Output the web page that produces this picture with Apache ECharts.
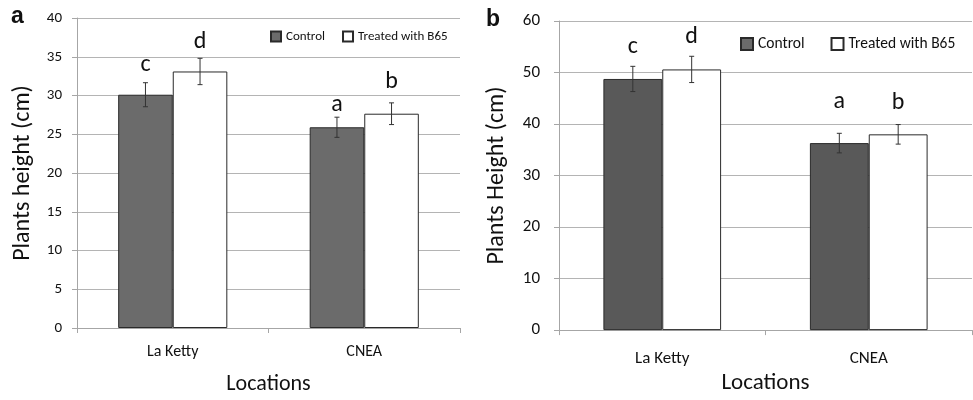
<!DOCTYPE html>
<html><head><meta charset="utf-8">
<script src="https://cdn.jsdelivr.net/npm/echarts@6/dist/echarts.min.js"></script>
<style>html,body{margin:0;padding:0;background:#fff}#c{width:973px;height:400px}</style>
</head><body><div id="c"></div>
<script>
const categories = ['La Ketty', 'CNEA'];
const seriesNames = ['Control', 'Treated with B65'];
// Panel a
const aControl = [30.1, 25.9];
const aTreated = [33.1, 27.65];
const aControlErr = [1.55, 1.3];
const aTreatedErr = [1.7, 1.4];
const aControlLetters = ['c', 'a'];
const aTreatedLetters = ['d', 'b'];
// Panel b
const bControl = [48.75, 36.3];
const bTreated = [50.6, 38.0];
const bControlErr = [2.45, 1.9];
const bTreatedErr = [2.55, 1.9];
const bControlLetters = ['c', 'a'];
const bTreatedLetters = ['d', 'b'];

const FONT = 'Carlito, Calibri, Lato, sans-serif';
const GAPFRAC = 0.43;
const chart = echarts.init(document.getElementById('c'), null, {renderer: 'canvas'});

function errSeries(gridIdx, means, errs, letters, side, fontSize, letterGaps) {
  return {
    type: 'custom', xAxisIndex: gridIdx, yAxisIndex: gridIdx, z: 10,
    data: means.map((m, i) => [i, m, errs[i]]),
    encode: {x: 0, y: 1},
    renderItem: function (params, api) {
      const i = api.value(0), m = api.value(1), e = api.value(2);
      const band = api.size([1, 0])[0];
      const bw = band * (1 - GAPFRAC) / 2;
      const cx = api.coord([i, m])[0] + side * bw / 2;
      const yHi = api.coord([i, m + e])[1];
      const yLo = api.coord([i, m - e])[1];
      const cap = 2.5;
      const st = {stroke: '#333', lineWidth: 1};
      return {type: 'group', children: [
        {type: 'line', shape: {x1: cx, y1: yHi, x2: cx, y2: yLo}, style: st},
        {type: 'line', shape: {x1: cx - cap, y1: yHi, x2: cx + cap, y2: yHi}, style: st},
        {type: 'line', shape: {x1: cx - cap, y1: yLo, x2: cx + cap, y2: yLo}, style: st},
        {type: 'text', style: {text: letters[i], x: cx, y: yHi - letterGaps[i], align: 'center', verticalAlign: 'bottom',
          font: fontSize + 'px ' + FONT, fill: '#111'}}
      ]};
    }
  };
}

function barSeries(gridIdx, name, data, color) {
  return {
    type: 'bar', name: name, xAxisIndex: gridIdx, yAxisIndex: gridIdx, data: data,
    barGap: '0%', barCategoryGap: (GAPFRAC * 100) + '%',
    itemStyle: {color: color, borderColor: '#2a2a2a', borderWidth: 1},
    emphasis: {disabled: true}
  };
}

function xAx(gridIdx, fs, margin, nameFs, nameGap) {
  return {
    type: 'category', gridIndex: gridIdx, data: categories,
    axisLine: {lineStyle: {color: '#a6a6a6'}},
    axisTick: {show: true, length: 5, lineStyle: {color: '#a6a6a6'}},
    axisLabel: {fontFamily: FONT, fontSize: fs, color: '#111', margin: margin},
    name: 'Locations', nameLocation: 'middle', nameGap: nameGap,
    nameTextStyle: {fontFamily: FONT, fontSize: nameFs, color: '#111'}
  };
}
function yAx(gridIdx, max, interval, fs, margin, name, nameFs, nameGap) {
  return {
    type: 'value', gridIndex: gridIdx, min: 0, max: max, interval: interval,
    axisLine: {show: true, lineStyle: {color: '#a6a6a6'}},
    axisTick: {show: true, length: 5, lineStyle: {color: '#a6a6a6'}},
    splitLine: {lineStyle: {color: '#b4b4b4'}},
    axisLabel: {fontFamily: FONT, fontSize: fs, color: '#111', margin: margin},
    name: name, nameLocation: 'middle', nameGap: nameGap,
    nameTextStyle: {fontFamily: FONT, fontSize: nameFs, color: '#111'}
  };
}

chart.setOption({
  animation: false,
  backgroundColor: '#fff',
  grid: [
    {left: 77, top: 18, width: 383, height: 312},
    {left: 559, top: 21, width: 413, height: 312}
  ],
  legend: [
    {data: seriesNames, left: 270, top: 30, padding: 0, width: 300, orient: 'horizontal', icon: 'rect', itemWidth: 10, itemHeight: 10, itemGap: 17,
      textStyle: {fontFamily: FONT, fontSize: 13, color: '#111'}, selectedMode: false},
    {data: seriesNames, left: 740, top: 36, padding: 0, width: 300, orient: 'horizontal', icon: 'rect', itemWidth: 12, itemHeight: 12, itemGap: 26,
      textStyle: {fontFamily: FONT, fontSize: 15.5, color: '#111'}, selectedMode: false}
  ],
  title: [
    {text: 'a', left: 11, top: 5, padding: 0, textStyle: {fontFamily: 'Liberation Sans', fontWeight: 'bold', fontSize: 23, color: '#111'}},
    {text: 'b', left: 486, top: 8, padding: 0, textStyle: {fontFamily: 'Liberation Sans', fontWeight: 'bold', fontSize: 23, color: '#111'}}
  ],
  xAxis: [xAx(0, 16, 16, 22, 45), xAx(1, 17, 20, 23, 40)],
  yAxis: [yAx(0, 40, 5, 15, 15, 'Plants height (cm)', 24, 42), yAx(1, 60, 10, 17, 19, 'Plants Height (cm)', 24, 50)],
  series: [
    barSeries(0, seriesNames[0], aControl, '#6b6b6b'),
    barSeries(0, seriesNames[1], aTreated, '#ffffff'),
    errSeries(0, aControl, aControlErr, aControlLetters, -1, 24, [6, 0]),
    errSeries(0, aTreated, aTreatedErr, aTreatedLetters, 1, 24, [4, 9]),
    barSeries(1, seriesNames[0], bControl, '#595959'),
    barSeries(1, seriesNames[1], bTreated, '#ffffff'),
    errSeries(1, bControl, bControlErr, bControlLetters, -1, 24, [7, 19]),
    errSeries(1, bTreated, bTreatedErr, bTreatedLetters, 1, 24, [7, 10])
  ]
});
</script></body></html>
